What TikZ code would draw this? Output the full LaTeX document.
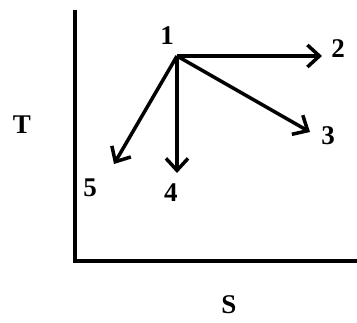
\documentclass[tikz,border=0pt]{standalone}
\usepackage{fontspec}
\setmainfont{Liberation Serif}
\usetikzlibrary{arrows.meta}
\tikzset{
  lbl/.style={font=\fontsize{27}{32}\selectfont\bfseries,inner sep=0pt},
  proc/.style={line width=3.5pt,-{Straight Barb[length=12pt,width=22pt,line width=3.5pt]}}
}
\begin{document}
\begin{tikzpicture}[x=1pt,y=-1pt]
  \useasboundingbox (0,0) rectangle (357,323);
  % axes
  \coordinate (top) at (75,10);
  \coordinate (org) at (75,261);
  \coordinate (right) at (357,261);
  \draw[line width=3.5pt] (top) -- (org) -- (right);
  \node[lbl] (T) at (22,125) {T};
  \node[lbl] (S) at (229,305) {S};
  % state points
  \coordinate (p1) at (177,56);
  \coordinate (p2) at (322,56);
  \coordinate (p3) at (310,132);
  \coordinate (p4) at (177,173);
  \coordinate (p5) at (114,164);
  \node[lbl] (l1) at (167,36) {1};
  \node[lbl] (l2) at (338,49) {2};
  \node[lbl] (l3) at (328,136) {3};
  \node[lbl] (l4) at (171,193) {4};
  \node[lbl] (l5) at (90,188) {5};
  % processes
  \draw[proc] (p1) -- (p2);
  \draw[proc] (p1) -- (p3);
  \draw[proc] (p1) -- (p4);
  \draw[proc] (p1) -- (p5);
\end{tikzpicture}
\end{document}
